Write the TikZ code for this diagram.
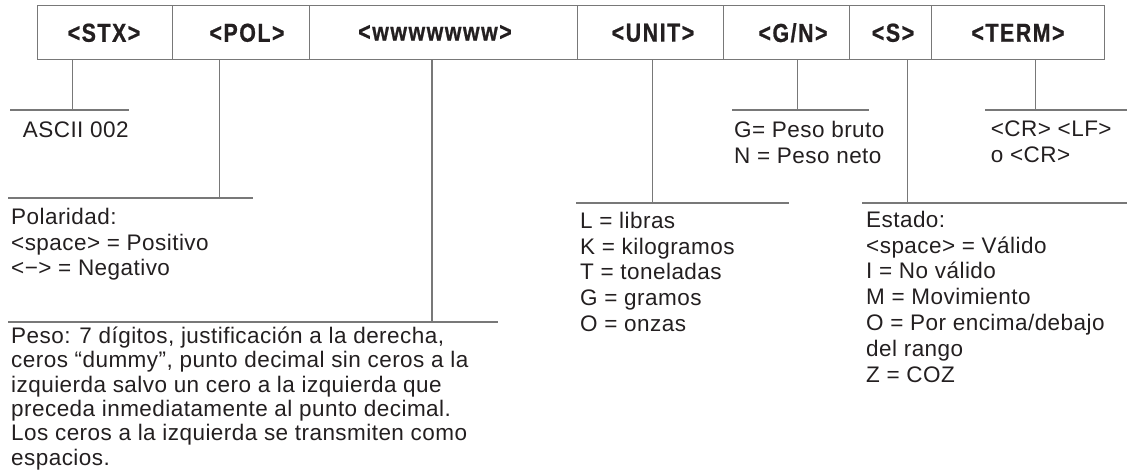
\documentclass[tikz,border=0pt]{standalone}
\usepackage{fontspec}
\setmainfont{Liberation Sans}[LetterSpace=2]
\newfontfamily\hdrfam[FakeStretch=0.82,LetterSpace=6,BoldFeatures={FakeBold=0.8}]{Liberation Sans}
\definecolor{lc}{RGB}{120,120,120}
\definecolor{tc}{RGB}{35,31,32}
\newcommand\fst{\rule{0pt}{20pt}}
\begin{document}
\begin{tikzpicture}[x=1pt,y=-1pt,
  ln/.style={draw=lc,line width=1.3pt},
  cell/.style={draw=lc,line width=1.3pt,rectangle,inner sep=0pt,minimum height=53.6pt,anchor=west},
  hdr/.style={font=\hdrfam\bfseries\fontsize{26}{28}\selectfont,text=tc,inner sep=0pt},
  txt/.style={font=\fontsize{22.5}{25.8}\selectfont,text=tc,inner sep=0pt,align=left,anchor=north west},
  txtb/.style={font=\fontsize{22.5}{24.4}\selectfont,text=tc,inner sep=0pt,align=left,anchor=north west}]
\useasboundingbox (0,0) rectangle (1127,469);
% header cells
\node[cell,minimum width=135pt]  (c1) at (36.7,32.5) {};
\node[cell,minimum width=137.3pt] (c2) at (171.7,32.5) {};
\node[cell,minimum width=268pt]  (c3) at (309,32.5) {};
\node[cell,minimum width=145.7pt] (c4) at (577,32.5) {};
\node[cell,minimum width=126pt]  (c5) at (722.7,32.5) {};
\node[cell,minimum width=82.3pt] (c6) at (848.7,32.5) {};
\node[cell,minimum width=172.7pt] (c7) at (931,32.5) {};
% header labels
\node[hdr] (h1) at (104,32.8) {<STX>};
\node[hdr] (h2) at (247,32.8) {<POL>};
\node[hdr] (h3) at (435,32.8) {<wwwwwww>};
\node[hdr] (h4) at (653,32.8) {<UNIT>};
\node[hdr] (h5) at (793,32.8) {<G/N>};
\node[hdr] (h6) at (893,32.8) {<S>};
\node[hdr] (h7) at (1018,32.8) {<TERM>};
% junctions and rule ends
\coordinate (j1) at (72.7,110);  \coordinate (a1) at (10,110);   \coordinate (b1) at (129,110);
\coordinate (j2) at (219.3,198); \coordinate (a2) at (8,198);    \coordinate (b2) at (253,198);
\coordinate (j3) at (432,322);   \coordinate (a3) at (8,322);    \coordinate (b3) at (498,322);
\coordinate (j4) at (652.7,203); \coordinate (a4) at (576,203);  \coordinate (b4) at (789,203);
\coordinate (j5) at (797.7,110); \coordinate (a5) at (732,110);  \coordinate (b5) at (869,110);
\coordinate (j6) at (907.7,203); \coordinate (a6) at (862,203);  \coordinate (b6) at (1127,203);
\coordinate (j7) at (1035.3,110);\coordinate (a7) at (985,110);  \coordinate (b7) at (1127,110);
% connectors
\draw[ln] (j1 |- c1.south) -- (j1);  \draw[ln] (a1) -- (b1);
\draw[ln] (j2 |- c2.south) -- (j2);  \draw[ln] (a2) -- (b2);
\draw[ln] (j3 |- c3.south) -- (j3);  \draw[ln] (a3) -- (b3);
\draw[ln] (j4 |- c4.south) -- (j4);  \draw[ln] (a4) -- (b4);
\draw[ln] (j5 |- c5.south) -- (j5);  \draw[ln] (a5) -- (b5);
\draw[ln] (j6 |- c6.south) -- (j6);  \draw[ln] (a6) -- (b6);
\draw[ln] (j7 |- c7.south) -- (j7);  \draw[ln] (a7) -- (b7);
% texts (node top = first baseline - 20)
\node[txt] (t1) at (22.7,117) {\fst ASCII 002};
\node[txt] (t2) at (11,204) {\fst Polaridad:\\<space> = Positivo\\<−> = Negativo};
\node[txtb] (t3) at (11,323) {\fst Peso: 7 dígitos, justificación a la derecha,\\ceros “dummy”, punto decimal sin ceros a la\\izquierda salvo un cero a la izquierda que\\preceda inmediatamente al punto decimal.\\Los ceros a la izquierda se transmiten como\\espacios.};
\node[txt] (t4) at (580,208) {\fst L = libras\\K = kilogramos\\T = toneladas\\G = gramos\\O = onzas};
\node[txt] (t5) at (734,117) {\fst G= Peso bruto\\N = Peso neto};
\node[txt] (t6) at (866,207) {\fst Estado:\\<space> = Válido\\I = No válido\\M = Movimiento\\O = Por encima/debajo\\del rango\\Z = COZ};
\node[txt] (t7) at (990.7,116) {\fst <CR> <LF>\\o <CR>};
\end{tikzpicture}
\end{document}
